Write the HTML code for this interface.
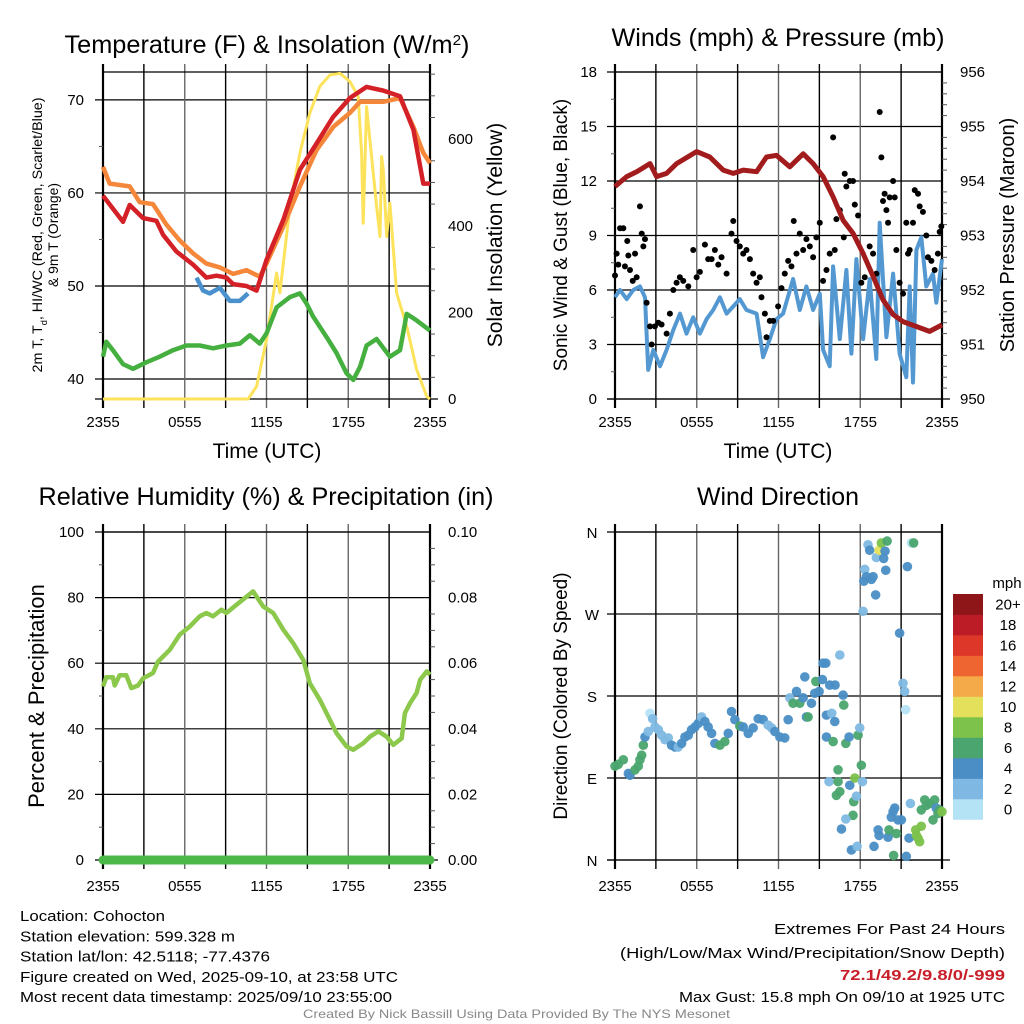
<!DOCTYPE html>
<html><head><meta charset="utf-8"><style>
html,body{margin:0;padding:0;background:#fff;}
svg{display:block;font-family:"Liberation Sans",sans-serif;}
</style></head><body>
<svg id="chart" width="1024" height="1024" viewBox="0 0 1024 1024" xmlns="http://www.w3.org/2000/svg"></svg>
<script>
// ---------- DATA ----------
const tempHours=[0,1.47,1.96,2.94,3.92,4.41,5.39,6.61,7.59,8.33,9.06,9.55,10.53,11.27,12.0,13.23,14.45,15.67,16.9,18.12,19.35,20.57,21.8,22.78,23.51,24];
const tempVals=[59.7,56.9,58.7,57.3,57.0,55.5,53.7,52.3,50.9,51.1,50.9,50.2,50.0,49.5,52.8,57.1,62.5,65.3,68.2,70.2,71.4,71.0,70.4,66.8,61.0,61.0];
const t9Hours=[0,0.49,1.96,2.69,3.67,4.65,5.63,6.61,7.59,8.57,9.55,10.53,11.51,12.0,13.23,14.45,15.67,16.9,18.12,18.86,20.57,21.8,22.78,23.51,24];
const t9Vals=[62.8,61.0,60.7,59.0,58.8,56.6,54.9,53.5,52.4,52.0,51.3,51.7,51.0,52.4,56.4,60.7,64.6,67.1,68.6,69.8,69.8,70.2,67.1,64.3,63.2];
const hiHours=[6.86,7.35,7.84,8.57,9.31,10.04,10.65];
const hiVals=[50.9,49.5,49.2,49.8,48.4,48.4,49.2];
const tdHours=[0,0.24,0.73,1.47,2.2,3.18,4.16,5.14,6.12,7.1,8.08,9.06,10.04,10.78,11.51,12.0,12.74,13.72,14.45,14.94,15.43,16.41,17.14,17.88,18.37,18.86,19.35,20.08,21.06,21.8,22.29,23.02,24];
const tdVals=[42.4,44.0,43.1,41.6,41.1,41.8,42.4,43.1,43.6,43.6,43.3,43.6,43.8,44.7,43.8,44.9,47.7,48.8,49.2,48.1,46.7,44.5,42.8,40.6,39.9,41.3,43.6,44.3,42.4,43.1,47.0,46.3,45.2];
const solHours=[0,10.65,11.27,12.0,12.74,12.98,13.72,14.45,15.18,15.92,16.65,17.39,18.12,18.73,18.98,19.1,19.35,19.59,20.08,20.33,20.45,20.57,20.82,21.06,21.55,22.29,23.02,23.76,24];
const solVals=[0,0,29,137,291,245,445,568,660,722,748,752,733,698,568,406,675,598,445,375,560,529,375,452,245,168,68,6,0];
const presHours=[0,0.86,1.59,2.57,3.05,3.79,4.52,5.99,6.96,7.94,8.68,9.41,10.39,11.12,11.85,12.83,13.81,14.54,15.27,16.01,16.74,17.47,18.21,18.94,19.67,20.41,21.14,22.12,23.09,24];
const presVals=[953.9,954.08,954.17,954.32,954.08,954.14,954.32,954.54,954.44,954.2,954.14,954.2,954.17,954.44,954.47,954.26,954.5,954.32,954.08,953.71,953.28,953.04,952.67,952.25,951.82,951.55,951.42,951.33,951.24,951.36];
const windHours=[0,0.37,0.86,1.34,1.83,2.2,2.44,2.81,3.3,3.79,4.28,4.77,5.25,5.74,6.23,6.72,7.21,7.7,8.19,8.68,9.16,9.65,10.39,10.87,11.36,11.85,12.34,13.07,13.56,14.05,14.54,15.03,15.27,15.76,16.01,16.5,16.98,17.35,17.72,18.21,18.69,19.18,19.43,19.92,20.41,20.89,21.38,21.63,21.87,22.12,22.48,22.85,23.34,23.58,24];
const windVals=[5.6,6.0,5.5,6.0,6.2,5.6,1.6,2.7,1.8,2.7,3.8,4.7,3.6,4.5,3.6,4.4,4.9,5.6,4.7,5.1,5.5,4.9,4.7,2.3,3.3,4.4,4.7,6.6,4.9,6.2,4.9,5.8,2.7,1.8,7.3,3.3,7.1,2.5,7.7,3.3,6.6,2.2,9.7,3.4,6.9,2.5,1.2,6.2,0.9,8.2,8.9,6.2,6.9,5.3,7.7];
const gustHours=[0,0.12,0.24,0.37,0.61,0.73,0.9,0.98,1.1,1.3,1.47,1.59,1.83,1.96,2.08,2.2,2.32,2.57,2.69,2.93,3.18,3.42,3.79,4.03,4.28,4.52,4.76,5.01,5.38,5.74,5.99,6.23,6.6,6.84,7.09,7.33,7.58,7.82,8.19,8.55,8.68,8.92,9.16,9.41,9.65,9.9,10.14,10.39,10.63,10.75,11.0,11.12,11.36,11.61,11.97,12.22,12.46,12.71,12.95,13.12,13.32,13.56,13.81,14.05,14.3,14.54,14.78,15.03,15.27,15.52,15.76,16.01,16.13,16.25,16.5,16.79,16.86,16.98,17.23,17.47,17.6,17.84,18.08,18.33,18.69,18.94,19.18,19.43,19.55,19.67,19.79,19.92,20.04,20.16,20.41,20.53,20.65,20.89,21.14,21.38,21.51,21.63,21.87,22.0,22.24,22.36,22.6,22.85,22.97,23.22,23.46,23.7,23.83,23.95];
const gustVals=[6.8,8.0,7.4,9.4,9.4,7.3,8.7,7.9,7.1,6.5,8.0,6.7,10.6,9.1,8.4,8.8,5.3,4.0,3.0,4.0,4.2,4.1,3.6,4.7,6.0,6.4,6.7,6.5,6.2,8.2,6.7,7.0,8.5,7.7,7.7,8.2,7.4,7.8,6.9,9.1,9.8,8.7,8.4,8.0,8.2,7.7,6.9,6.4,6.7,5.6,4.7,3.4,4.3,4.3,5.1,6.1,6.9,7.6,7.3,9.8,8.0,9.1,8.2,8.8,8.4,7.8,8.9,9.7,6.5,7.1,8.0,14.4,8.2,9.9,10.4,8.9,12.4,11.7,12.0,12.0,10.7,10.1,6.4,6.7,8.4,8.0,6.9,15.8,13.3,10.9,11.3,10.4,9.7,11.1,12.0,11.1,8.2,6.4,5.8,9.7,8.0,8.2,9.7,11.5,11.3,10.6,10.3,9.0,7.8,7.6,7.1,8.0,9.2,9.5];
const rhHours=[0,0.24,0.73,0.86,1.22,1.71,2.08,2.57,2.94,3.67,4.04,4.9,5.63,6.37,7.1,7.59,8.08,8.69,9.06,9.8,11.02,11.76,12.49,13.23,13.96,14.7,15.18,15.92,16.65,17.14,17.88,18.37,19.1,19.59,20.21,20.82,21.31,21.92,22.16,22.53,23.02,23.27,23.76,24];
const rhVals=[52.9,55.7,55.7,53.2,56.3,56.3,52.4,53.2,55.4,57.0,60.5,64.1,68.7,71.2,74.3,75.3,74.3,76.3,75.3,77.8,81.9,77.3,75.3,70.2,66.1,61.0,53.9,48.8,42.7,38.7,34.6,33.6,35.6,37.6,39.2,37.6,35.1,37.1,44.8,47.8,50.9,54.9,57.5,56.5];
const precipHours=[0,24];
const precipVals=[0,0];
const dirHours=[0,0.24,0.61,0.98,1.1,1.47,1.71,1.83,1.96,2.08,2.2,2.44,2.57,2.76,2.93,3.18,3.42,3.67,3.91,4.15,4.4,4.64,4.89,5.13,5.38,5.62,5.87,6.11,6.35,6.6,6.84,7.09,7.33,7.7,8.06,8.31,8.55,8.8,9.16,9.41,9.78,10.14,10.51,10.87,11.24,11.49,11.73,12.1,12.46,12.71,12.83,13.07,13.32,13.56,13.81,13.93,14.05,14.17,14.42,14.66,14.74,14.98,15.22,15.27,15.47,15.52,15.52,15.76,15.91,16.01,16.13,16.15,16.37,15.71,16.37,16.25,16.5,16.62,16.5,16.74,16.79,16.94,17.18,17.23,17.35,17.47,17.52,17.6,17.72,17.77,16.94,17.84,17.96,18.08,18.16,18.21,18.26,18.33,18.45,18.57,18.69,18.82,18.94,19.13,19.18,19.38,19.55,19.72,19.82,19.87,19.97,19.01,19.31,19.38,20.04,20.11,20.28,20.41,20.53,20.65,20.77,20.89,21.02,20.45,21.14,21.26,21.33,21.38,21.46,21.58,21.68,21.75,21.92,22.07,22.12,22.24,22.36,22.48,22.48,22.73,22.85,23.09,23.34,23.46,23.58,23.7,23.83,24];
const dirDegs=[103,105,110,95,93,99,103,110,115,126,135,141,161,155,146,143,137,132,134,126,124,124,128,135,137,143,146,150,157,152,146,139,128,126,130,139,163,154,147,146,139,145,155,154,148,145,141,135,134,154,178,172,185,172,178,201,157,157,172,183,196,185,198,216,216,159,135,192,161,130,152,192,99,86,86,71,75,34,225,181,170,128,135,82,11,49,64,90,70,15,45,137,145,104,86,273,306,319,311,346,340,308,311,291,332,340,348,331,339,318,350,15,33,27,25,33,47,53,57,29,44,249,44,5,194,185,165,4,322,24,62,348,348,33,27,24,20,37,55,66,60,62,44,66,57,51,55,53];
const dirSpeeds=[6,6,6,4,4,6,6,6,6,6,4,2,0,2,2,2,2,2,2,4,4,2,4,4,4,4,4,4,2,4,4,4,4,6,6,4,4,4,6,4,4,4,4,4,2,2,4,4,4,4,2,6,4,6,4,4,4,6,4,4,6,4,4,4,4,4,4,4,2,6,4,4,6,2,6,6,6,4,2,4,6,6,4,4,4,6,6,8,2,2,2,6,2,6,2,2,4,2,4,2,4,4,4,4,2,10,8,4,4,4,6,4,4,4,4,6,4,4,4,6,4,4,4,6,2,2,0,4,4,4,2,0,6,8,8,8,8,8,6,6,6,6,6,6,4,6,6,8];
const speedBins=['0','2','4','6','8','10','12','14','16','18','20+'];
const binColors=['#b5e3f6','#7fb9e3','#4a8ec5','#4aa56e','#7cc24b','#e5e05b','#f5aa4a','#ee6531','#dd3729','#bb1c25','#8e1619'];

// ---------- HELPERS ----------
const NS='http://www.w3.org/2000/svg';
const svg=document.getElementById('chart');
function mk(tag,attrs,parent){const e=document.createElementNS(NS,tag);for(const k in attrs)e.setAttribute(k,attrs[k]);(parent||svg).appendChild(e);return e;}
function T(str,x,y,size,anchor,parent,extra){const e=mk('text',Object.assign({x:x,y:y,'font-size':size,'text-anchor':anchor||'middle',fill:'#000'},extra||{}),parent);e.textContent=str;return e;}
function sx(p,h){return p.x0+h/24*(p.x1-p.x0);}
function sy(p,v,lo,hi){return p.y1-(v-lo)/(hi-lo)*(p.y1-p.y0);}
function linePath(p,hs,vs,lo,hi){return hs.map((h,i)=>(i?'L':'M')+sx(p,h).toFixed(1)+','+sy(p,vs[i],lo,hi).toFixed(1)).join('');}

function frame(p,g,hLines,ticksL,ticksR){
  hLines.forEach(y=>{const l=mk('line',{x1:p.x0-8,x2:p.x1,y1:y,y2:y,stroke:'#000','stroke-width':1.2},g);
    
    });
  for(let k=0;k<=8;k++){const x=sx(p,k*3);const edge=(k===0||k===8);
    const l=mk('line',{x1:x,x2:x,y1:p.y0-8,y2:p.y1+9,stroke:edge?'#000':(k%2?'#000':'#666'),'stroke-width':edge?2.2:1.4},g);
    
    }
  const b=mk('line',{x1:p.x0-8,x2:p.x1+8,y1:p.y1,y2:p.y1,stroke:'#000','stroke-width':1.2},g);
  
  
  const tp=mk('line',{x1:p.x0,x2:p.x1,y1:p.y0,y2:p.y0,stroke:'#000','stroke-width':1.2},g);
  
  
  (ticksL||[]).forEach(y=>{const l=mk('line',{x1:p.x0-4,x2:p.x0,y1:y,y2:y,stroke:'#555','stroke-width':1},g);
    
    });
  (ticksR||[]).forEach(y=>{const l=mk('line',{x1:p.x1,x2:p.x1+5,y1:y,y2:y,stroke:'#555','stroke-width':1},g);
    
    });
}
function xLabels(p,g){['2355','0555','1155','1755','2355'].forEach((s,i)=>{const t=T(s,sx(p,i*6),427,15,'middle',g);
  
  });}

// ---------- PANEL 1: Temperature ----------
(function(){
const p={x0:103,x1:430,y0:72,y1:399};const lo=37.85,hi=73.0,slo=0,shi=755;
const g=mk('g',{});


const tt=T('',267,53,25,'middle',g,{textLength:405,lengthAdjust:'spacingAndGlyphs'});tt.textContent='Temperature (F) & Insolation (W/m';
const sup=mk('tspan',{'baseline-shift':'super','font-size':15},tt);sup.textContent='2';
const cl=mk('tspan',{},tt);cl.textContent=')';


frame(p,g,[40,50,60,70].map(v=>sy(p,v,lo,hi)),[45,55,65].map(v=>sy(p,v,lo,hi)),[50,100,150,250,300,350,450,500,550,650,700,750].map(v=>sy(p,v,slo,shi)));
[40,50,60,70].forEach(v=>{const t=T(String(v),84,sy(p,v,lo,hi)+5,15,'end',g);
  
  });
[0,200,400,600].forEach(v=>{const t=T(String(v),448,sy(p,v,slo,shi)+5,15,'start',g);
  
  });
xLabels(p,g);
const xt=T('Time (UTC)',267,458,21,'middle',g);


const yt=T('',42,235,14,'middle',g,{transform:'rotate(-90 42 235)',textLength:275,lengthAdjust:'spacingAndGlyphs'});
yt.appendChild(document.createTextNode('2m T, T'));
const sb=mk('tspan',{'baseline-shift':'sub','font-size':9},yt);sb.textContent='d';
const rest=mk('tspan',{},yt);rest.textContent=', HI/WC (Red, Green, Scarlet/Blue)';


const yt2=T('& 9m T (Orange)',58,235,14,'middle',g,{transform:'rotate(-90 58 235)',textLength:104,lengthAdjust:'spacingAndGlyphs'});


const rt=T('Solar Insolation (Yellow)',502,235,21,'middle',g,{transform:'rotate(-90 502 235)'});


const series=[[solHours,solVals,slo,shi,'#fde35b',3,'solar-line'],[tdHours,tdVals,lo,hi,'#45b03f',4.5,'dewpoint-line'],[t9Hours,t9Vals,lo,hi,'#f5873a',4.5,'temp-9m-line'],[tempHours,tempVals,lo,hi,'#d42027',4.5,'temp-2m-line'],[hiHours,hiVals,lo,hi,'#4a90cd',4.5,'windchill-line']];
series.forEach(s=>{const pa=mk('path',{d:linePath(p,s[0],s[1],s[2],s[3]),fill:'none',stroke:s[4],'stroke-width':s[5],'stroke-linejoin':'round'},g);
  
  });
})();

// ---------- PANEL 2: Winds ----------
(function(){
const p={x0:615,x1:942,y0:72,y1:399};const lo=0,hi=18,plo=950,phi=956;
const g=mk('g',{});


const tt=T('Winds (mph) & Pressure (mb)',778,46,25,'middle',g,{textLength:333,lengthAdjust:'spacingAndGlyphs'});


frame(p,g,[0,3,6,9,12,15,18].map(v=>sy(p,v,lo,hi)),[1.5,4.5,7.5,10.5,13.5,16.5].map(v=>sy(p,v,lo,hi)),[950.2,950.4,950.6,950.8,951.2,951.4,951.6,951.8,952.2,952.4,952.6,952.8,953.2,953.4,953.6,953.8,954.2,954.4,954.6,954.8,955.2,955.4,955.6,955.8].map(v=>sy(p,v,plo,phi)));
[0,3,6,9,12,15,18].forEach(v=>{const t=T(String(v),597,sy(p,v,lo,hi)+5,15,'end',g);
  
  });
[950,951,952,953,954,955,956].forEach(v=>{const t=T(String(v),960,sy(p,v,plo,phi)+5,15,'start',g);
  
  });
xLabels(p,g);
const xt=T('Time (UTC)',778,458,21,'middle',g);


const yt=T('Sonic Wind & Gust (Blue, Black)',567,235,19,'middle',g,{transform:'rotate(-90 567 235)'});


const rt=T('Station Pressure (Maroon)',1014,235,20,'middle',g,{transform:'rotate(-90 1014 235)'});


const w=mk('path',{d:linePath(p,windHours,windVals,lo,hi),fill:'none',stroke:'#5498d2','stroke-width':4,'stroke-linejoin':'round'},g);


gustHours.forEach((h,i)=>{const c=mk('circle',{cx:sx(p,h),cy:sy(p,gustVals[i],lo,hi),r:3,fill:'#000'},g);
  
  });
const pr=mk('path',{d:linePath(p,presHours,presVals,plo,phi),fill:'none',stroke:'#a31c1d','stroke-width':5,'stroke-linejoin':'round'},g);


})();

// ---------- PANEL 3: RH ----------
(function(){
const p={x0:103,x1:430,y0:532,y1:860};const lo=0,hi=100,qlo=0,qhi=0.1;
const g=mk('g',{});


const tt=T('Relative Humidity (%) & Precipitation (in)',266,505,25,'middle',g,{textLength:455,lengthAdjust:'spacingAndGlyphs'});


frame(p,g,[20,40,60,80,100].map(v=>sy(p,v,lo,hi)),[10,30,50,70,90].map(v=>sy(p,v,lo,hi)),[0.005,0.01,0.015,0.025,0.03,0.035,0.045,0.05,0.055,0.065,0.07,0.075,0.085,0.09,0.095].map(v=>sy(p,v,qlo,qhi)));
[0,20,40,60,80,100].forEach(v=>{const t=T(String(v),84,sy(p,v,lo,hi)+5,15,'end',g);
  
  });
['0.00','0.02','0.04','0.06','0.08','0.10'].forEach(s=>{const t=T(s,448,sy(p,parseFloat(s),qlo,qhi)+5,15,'start',g);
  
  });
['2355','0555','1155','1755','2355'].forEach((s,i)=>{const t=T(s,sx(p,i*6),891,15,'middle',g);
  
  });
const yt=T('Percent & Precipitation',44,696,22,'middle',g,{transform:'rotate(-90 44 696)'});


const rh=mk('path',{d:linePath(p,rhHours,rhVals,lo,hi),fill:'none',stroke:'#8cc84b','stroke-width':4.5,'stroke-linejoin':'round'},g);


const pc=mk('path',{d:linePath(p,precipHours,precipVals,qlo,qhi),fill:'none',stroke:'#4cb847','stroke-width':9,'stroke-linecap':'round'},g);


})();

// ---------- PANEL 4: Wind Direction ----------
(function(){
const p={x0:615,x1:942,y0:532,y1:860};const lo=0,hi=360;
const g=mk('g',{});


const tt=T('Wind Direction',778,505,25,'middle',g,{textLength:162,lengthAdjust:'spacingAndGlyphs'});


frame(p,g,[0,90,180,270,360].map(v=>sy(p,v,lo,hi)),[],[]);
[['N',0],['E',90],['S',180],['W',270],['N',360]].forEach(a=>{const t=T(a[0],592,sy(p,a[1],lo,hi)+6,15,'middle',g);
  
  });
['2355','0555','1155','1755','2355'].forEach((s,i)=>{const t=T(s,sx(p,i*6),891,15,'middle',g);
  
  });
const yt=T('Direction (Colored By Speed)',567,696,19,'middle',g,{transform:'rotate(-90 567 696)'});


dirHours.forEach((h,i)=>{const bin=Math.min(10,Math.floor(dirSpeeds[i]/2));
  const c=mk('circle',{cx:sx(p,h),cy:sy(p,dirDegs[i],lo,hi),r:4.8,fill:binColors[bin],'fill-opacity':0.95},g);
  
  });
const cb=mk('g',{});


const u=T('mph',1007,588,15,'middle',cb);


const top=594,bh=20.5;
speedBins.forEach((s,i)=>{const y=top+(10-i)*bh;
  const r=mk('rect',{x:953,y:y,width:30,height:bh+0.3,fill:binColors[i]},cb);
  
  
  const t=T(s,1008,y+bh/2+5,15,'middle',cb);
  
  });
})();

// ---------- FOOTER ----------
(function(){
const g=mk('g',{});


const left=[['Location: Cohocton',145],['Station elevation: 599.328 m',215],['Station lat/lon: 42.5118; -77.4376',250],['Figure created on Wed, 2025-09-10, at 23:58 UTC',378],['Most recent data timestamp: 2025/09/10 23:55:00',372]];
left.forEach((l,i)=>{const t=T(l[0],20,921+i*20.3,15,'start',g,{textLength:l[1],lengthAdjust:'spacingAndGlyphs'});
  
  });
const right=[['Extremes For Past 24 Hours',231,934,false],['(High/Low/Max Wind/Precipitation/Snow Depth)',385,958,false],['72.1/49.2/9.8/0/-999',165,980,true],['Max Gust: 15.8 mph On 09/10 at 1925 UTC',326,1002,false]];
right.forEach(r=>{const t=T(r[0],1005-r[1],r[2],15,'start',g,{textLength:r[1],lengthAdjust:'spacingAndGlyphs'});
  if(r[3]){t.setAttribute('fill','#c8202a');t.setAttribute('font-weight','bold');}
  
  });
const c=T('Created By Nick Bassill Using Data Provided By The NYS Mesonet',303,1018,12,'start',g,{textLength:427,lengthAdjust:'spacingAndGlyphs',fill:'#888'});


})();
</script>
</body></html>
